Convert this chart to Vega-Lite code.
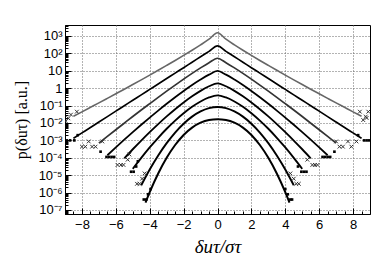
{
 "$schema": "https://vega.github.io/schema/vega-lite/v6.json",
 "width": 305, "height": 189,
 "autosize": {"type": "none"},
 "padding": {"left": 65, "top": 25, "right": 12, "bottom": 55},
 "background": "white",
 "config": {"view": {"stroke": "black", "strokeWidth": 1}},
 "datasets": {
  "curves": [
   {"c":1,"x":-8.5,"p":0.0244},{"c":1,"x":-8,"p":0.0438},{"c":1,"x":-7.5,"p":0.0791},{"c":1,"x":-7,"p":0.143},{"c":1,"x":-6.5,"p":0.261},{"c":1,"x":-6,"p":0.478},{"c":1,"x":-5.5,"p":0.877},{"c":1,"x":-5,"p":1.62},{"c":1,"x":-4.5,"p":3.02},{"c":1,"x":-4,"p":5.66},{"c":1,"x":-3.5,"p":10.7},{"c":1,"x":-3,"p":20.4},{"c":1,"x":-2.5,"p":39.2},{"c":1,"x":-2,"p":76.6},{"c":1,"x":-1.5,"p":152},{"c":1,"x":-1,"p":309},{"c":1,"x":-0.5,"p":653},{"c":1,"x":0,"p":1549},{"c":1,"x":0.5,"p":653},{"c":1,"x":1,"p":309},{"c":1,"x":1.5,"p":152},{"c":1,"x":2,"p":76.6},{"c":1,"x":2.5,"p":39.2},{"c":1,"x":3,"p":20.4},{"c":1,"x":3.5,"p":10.7},{"c":1,"x":4,"p":5.66},{"c":1,"x":4.5,"p":3.02},{"c":1,"x":5,"p":1.62},{"c":1,"x":5.5,"p":0.877},{"c":1,"x":6,"p":0.478},{"c":1,"x":6.5,"p":0.261},{"c":1,"x":7,"p":0.143},{"c":1,"x":7.5,"p":0.0791},{"c":1,"x":8,"p":0.0438},{"c":1,"x":8.5,"p":0.0244},
   {"c":2,"x":-8.5,"p":0.00131},{"c":2,"x":-8,"p":0.00269},{"c":2,"x":-7.5,"p":0.00553},{"c":2,"x":-7,"p":0.01135},{"c":2,"x":-6.5,"p":0.0233},{"c":2,"x":-6,"p":0.0479},{"c":2,"x":-5.5,"p":0.0983},{"c":2,"x":-5,"p":0.202},{"c":2,"x":-4.5,"p":0.414},{"c":2,"x":-4,"p":0.851},{"c":2,"x":-3.5,"p":1.75},{"c":2,"x":-3,"p":3.59},{"c":2,"x":-2.5,"p":7.37},{"c":2,"x":-2,"p":15.1},{"c":2,"x":-1.5,"p":31.1},{"c":2,"x":-1,"p":63.8},{"c":2,"x":-0.5,"p":131},{"c":2,"x":0,"p":269},{"c":2,"x":0.5,"p":131},{"c":2,"x":1,"p":63.8},{"c":2,"x":1.5,"p":31.1},{"c":2,"x":2,"p":15.1},{"c":2,"x":2.5,"p":7.37},{"c":2,"x":3,"p":3.59},{"c":2,"x":3.5,"p":1.75},{"c":2,"x":4,"p":0.851},{"c":2,"x":4.5,"p":0.414},{"c":2,"x":5,"p":0.202},{"c":2,"x":5.5,"p":0.0983},{"c":2,"x":6,"p":0.0479},{"c":2,"x":6.5,"p":0.0233},{"c":2,"x":7,"p":0.01135},{"c":2,"x":7.5,"p":0.00553},{"c":2,"x":8,"p":0.00269},{"c":2,"x":8.5,"p":0.00131},
   {"c":3,"x":-7,"p":0.000692},{"c":3,"x":-6.5,"p":0.00169},{"c":3,"x":-6,"p":0.0041},{"c":3,"x":-5.5,"p":0.00986},{"c":3,"x":-5,"p":0.0236},{"c":3,"x":-4.5,"p":0.0556},{"c":3,"x":-4,"p":0.129},{"c":3,"x":-3.5,"p":0.298},{"c":3,"x":-3,"p":0.678},{"c":3,"x":-2.5,"p":1.51},{"c":3,"x":-2,"p":3.31},{"c":3,"x":-1.5,"p":7.1},{"c":3,"x":-1,"p":14.7},{"c":3,"x":-0.5,"p":29.2},{"c":3,"x":0,"p":52.5},{"c":3,"x":0.5,"p":29.2},{"c":3,"x":1,"p":14.7},{"c":3,"x":1.5,"p":7.1},{"c":3,"x":2,"p":3.31},{"c":3,"x":2.5,"p":1.51},{"c":3,"x":3,"p":0.678},{"c":3,"x":3.5,"p":0.298},{"c":3,"x":4,"p":0.129},{"c":3,"x":4.5,"p":0.0556},{"c":3,"x":5,"p":0.0236},{"c":3,"x":5.5,"p":0.00986},{"c":3,"x":6,"p":0.0041},{"c":3,"x":6.5,"p":0.00169},{"c":3,"x":7,"p":0.000692},
   {"c":4,"x":-6.5,"p":0.00014},{"c":4,"x":-6,"p":0.000395},{"c":4,"x":-5.5,"p":0.001096},{"c":4,"x":-5,"p":0.00298},{"c":4,"x":-4.5,"p":0.00791},{"c":4,"x":-4,"p":0.0205},{"c":4,"x":-3.5,"p":0.0518},{"c":4,"x":-3,"p":0.127},{"c":4,"x":-2.5,"p":0.302},{"c":4,"x":-2,"p":0.692},{"c":4,"x":-1.5,"p":1.517},{"c":4,"x":-1,"p":3.13},{"c":4,"x":-0.5,"p":6.0},{"c":4,"x":0,"p":9.77},{"c":4,"x":0.5,"p":6.0},{"c":4,"x":1,"p":3.13},{"c":4,"x":1.5,"p":1.517},{"c":4,"x":2,"p":0.692},{"c":4,"x":2.5,"p":0.302},{"c":4,"x":3,"p":0.127},{"c":4,"x":3.5,"p":0.0518},{"c":4,"x":4,"p":0.0205},{"c":4,"x":4.5,"p":0.00791},{"c":4,"x":5,"p":0.00298},{"c":4,"x":5.5,"p":0.001096},{"c":4,"x":6,"p":0.000395},{"c":4,"x":6.5,"p":0.00014},
   {"c":5,"x":-5.5,"p":0.0000935},{"c":5,"x":-5,"p":0.00031},{"c":5,"x":-4.5,"p":0.000984},{"c":5,"x":-4,"p":0.00299},{"c":5,"x":-3.5,"p":0.00867},{"c":5,"x":-3,"p":0.0239},{"c":5,"x":-2.5,"p":0.0621},{"c":5,"x":-2,"p":0.151},{"c":5,"x":-1.5,"p":0.342},{"c":5,"x":-1,"p":0.705},{"c":5,"x":-0.5,"p":1.291},{"c":5,"x":0,"p":1.905},{"c":5,"x":0.5,"p":1.291},{"c":5,"x":1,"p":0.705},{"c":5,"x":1.5,"p":0.342},{"c":5,"x":2,"p":0.151},{"c":5,"x":2.5,"p":0.0621},{"c":5,"x":3,"p":0.0239},{"c":5,"x":3.5,"p":0.00867},{"c":5,"x":4,"p":0.00299},{"c":5,"x":4.5,"p":0.000984},{"c":5,"x":5,"p":0.00031},{"c":5,"x":5.5,"p":0.0000935},
   {"c":6,"x":-5,"p":0.0000233},{"c":6,"x":-4.5,"p":0.0000995},{"c":6,"x":-4,"p":0.000394},{"c":6,"x":-3.5,"p":0.001416},{"c":6,"x":-3,"p":0.00465},{"c":6,"x":-2.5,"p":0.01374},{"c":6,"x":-2,"p":0.0363},{"c":6,"x":-1.5,"p":0.0849},{"c":6,"x":-1,"p":0.172},{"c":6,"x":-0.5,"p":0.294},{"c":6,"x":0,"p":0.389},{"c":6,"x":0.5,"p":0.294},{"c":6,"x":1,"p":0.172},{"c":6,"x":1.5,"p":0.0849},{"c":6,"x":2,"p":0.0363},{"c":6,"x":2.5,"p":0.01374},{"c":6,"x":3,"p":0.00465},{"c":6,"x":3.5,"p":0.001416},{"c":6,"x":4,"p":0.000394},{"c":6,"x":4.5,"p":0.0000995},{"c":6,"x":5,"p":0.0000233},
   {"c":7,"x":-4.5,"p":0.00000264},{"c":7,"x":-4,"p":0.0000211},{"c":7,"x":-3.5,"p":0.0001355},{"c":7,"x":-3,"p":0.000695},{"c":7,"x":-2.5,"p":0.00283},{"c":7,"x":-2,"p":0.00912},{"c":7,"x":-1.5,"p":0.0232},{"c":7,"x":-1,"p":0.0461},{"c":7,"x":-0.5,"p":0.0711},{"c":7,"x":0,"p":0.0832},{"c":7,"x":0.5,"p":0.0711},{"c":7,"x":1,"p":0.0461},{"c":7,"x":1.5,"p":0.0232},{"c":7,"x":2,"p":0.00912},{"c":7,"x":2.5,"p":0.00283},{"c":7,"x":3,"p":0.000695},{"c":7,"x":3.5,"p":0.0001355},{"c":7,"x":4,"p":0.0000211},{"c":7,"x":4.5,"p":0.00000264},
   {"c":8,"x":-4.25,"p":0.000000262},{"c":8,"x":-4,"p":0.00000105},{"c":8,"x":-3.5,"p":0.00001245},{"c":8,"x":-3,"p":0.0000995},{"c":8,"x":-2.5,"p":0.000542},{"c":8,"x":-2,"p":0.00205},{"c":8,"x":-1.5,"p":0.00543},{"c":8,"x":-1,"p":0.0104},{"c":8,"x":-0.5,"p":0.01476},{"c":8,"x":0,"p":0.0162},{"c":8,"x":0.5,"p":0.01476},{"c":8,"x":1,"p":0.0104},{"c":8,"x":1.5,"p":0.00543},{"c":8,"x":2,"p":0.00205},{"c":8,"x":2.5,"p":0.000542},{"c":8,"x":3,"p":0.0000995},{"c":8,"x":3.5,"p":0.00001245},{"c":8,"x":4,"p":0.00000105},{"c":8,"x":4.25,"p":0.000000262}
  ],
  "tails": [
   {"c":1,"x":-8.95,"p":0.0126},{"c":1,"x":-8.8,"p":0.0186},{"c":1,"x":-8.65,"p":0.0302},{"c":1,"x":-8.3,"p":0.0447},{"c":1,"x":8.6,"p":0.0148},{"c":1,"x":8.75,"p":0.0234},{"c":1,"x":8.9,"p":0.0447},{"c":1,"x":8.8,"p":0.0195},{"c":1,"x":8.4,"p":0.0447},
   {"c":2,"x":-8.9,"p":0.001},{"c":2,"x":-8.7,"p":0.001},{"c":2,"x":-8.45,"p":0.001},{"c":2,"x":-8.25,"p":0.002},{"c":2,"x":8.3,"p":0.002},{"c":2,"x":8.65,"p":0.001},{"c":2,"x":8.8,"p":0.001},{"c":2,"x":8.95,"p":0.001},
   {"c":3,"x":-8.0,"p":0.000437},{"c":3,"x":-7.8,"p":0.000437},{"c":3,"x":-7.4,"p":0.000437},{"c":3,"x":-7.2,"p":0.000437},{"c":3,"x":-7.6,"p":0.00087},{"c":3,"x":-6.8,"p":0.00087},{"c":3,"x":7.0,"p":0.00087},{"c":3,"x":7.2,"p":0.000437},{"c":3,"x":7.4,"p":0.000437},{"c":3,"x":7.7,"p":0.00087},{"c":3,"x":7.9,"p":0.000437},{"c":3,"x":8.2,"p":0.00087},
   {"c":4,"x":-6.55,"p":0.000112},{"c":4,"x":-6.4,"p":0.000112},{"c":4,"x":-6.25,"p":0.000112},{"c":4,"x":-6.1,"p":0.000112},{"c":4,"x":-6.9,"p":0.000224},{"c":4,"x":6.2,"p":0.000112},{"c":4,"x":6.35,"p":0.000112},{"c":4,"x":6.5,"p":0.000112},{"c":4,"x":6.65,"p":0.000112},{"c":4,"x":6.9,"p":0.000224},
   {"c":5,"x":-5.9,"p":0.000039},{"c":5,"x":-5.7,"p":0.000039},{"c":5,"x":-5.55,"p":0.000039},{"c":5,"x":-5.3,"p":0.000078},{"c":5,"x":-5.2,"p":0.000155},{"c":5,"x":5.3,"p":0.000078},{"c":5,"x":5.6,"p":0.000039},{"c":5,"x":5.75,"p":0.000039},{"c":5,"x":5.9,"p":0.000039},
   {"c":6,"x":-5.1,"p":0.0000158},{"c":6,"x":-4.95,"p":0.0000158},{"c":6,"x":-4.8,"p":0.0000316},{"c":6,"x":-4.7,"p":0.000063},{"c":6,"x":4.75,"p":0.0000316},{"c":6,"x":4.95,"p":0.0000158},{"c":6,"x":5.1,"p":0.0000158},{"c":6,"x":5.25,"p":0.0000158},
   {"c":7,"x":-4.75,"p":0.0000032},{"c":7,"x":-4.6,"p":0.0000032},{"c":7,"x":-4.45,"p":0.0000063},{"c":7,"x":-4.3,"p":0.0000126},{"c":7,"x":4.3,"p":0.0000126},{"c":7,"x":4.5,"p":0.0000063},{"c":7,"x":4.65,"p":0.0000032},{"c":7,"x":4.8,"p":0.0000032},
   {"c":8,"x":-4.35,"p":0.0000004},{"c":8,"x":-4.2,"p":0.0000004},{"c":8,"x":-4.1,"p":0.0000008},{"c":8,"x":-3.95,"p":0.0000016},{"c":8,"x":4.0,"p":0.0000016},{"c":8,"x":4.15,"p":0.0000008},{"c":8,"x":4.3,"p":0.0000004},{"c":8,"x":4.4,"p":0.0000004}
  ]
 },
 "layer": [
  {
   "data": {"name": "curves"},
   "mark": {"type": "line", "clip": true, "interpolate": "monotone"},
   "encoding": {
    "x": {"field": "x", "type": "quantitative", "scale": {"domain": [-9, 9], "nice": false, "zero": false},
     "axis": {"orient": "bottom", "values": [-8,-6,-4,-2,0,2,4,6,8], "format": "d", "tickSize": -6, "tickColor": "black", "labelPadding": 10, "labelFontSize": 13, "labelFont": "Liberation Sans", "labelColor": "black", "grid": true, "gridDash": [1,2], "gridColor": "#666", "domainColor": "black", "title": "δuτ/στ", "titleFont": "Liberation Serif", "titleFontSize": 19, "titleFontWeight": "normal", "titleFontStyle": "italic", "titleColor": "black", "titlePadding": 6}},
    "y": {"field": "p", "type": "quantitative", "scale": {"type": "log", "domain": [5.89e-8, 4285], "nice": false},
     "axis": {"orient": "left", "values": [1e-7,1e-6,1e-5,1e-4,1e-3,1e-2,1e-1,1,10,100,1000], "labelExpr": "['10⁻⁷','10⁻⁶','10⁻⁵','10⁻⁴','10⁻³','10⁻²','10⁻¹','1','10','10²','10³'][round(log(datum.value)/LN10)+7]", "tickSize": -6, "tickColor": "black", "labelPadding": 9, "labelFontSize": 13, "labelFont": "Liberation Sans", "labelColor": "black", "grid": true, "gridDash": [1,2], "gridColor": "#666", "domainColor": "black", "title": "p(δuτ) [a.u.]", "titleFont": "Liberation Serif", "titleFontSize": 16, "titleFontWeight": "normal", "titleColor": "black", "titlePadding": 8}},
    "color": {"field": "c", "type": "nominal", "scale": {"domain": [1,2,3,4,5,6,7,8], "range": ["#666","#000","#333","#000","#000","#000","#000","#000"]}, "legend": null},
    "strokeWidth": {"field": "c", "type": "ordinal", "scale": {"domain": [1,2,3,4,5,6,7,8], "range": [1.6,2,2,2.3,2.5,2.7,2.9,3]}, "legend": null}
   }
  },
  {
   "data": {"name": "tails"},
   "transform": [{"filter": "datum.c % 2 == 1"}],
   "mark": {"type": "point", "shape": "M-1,-1L1,1M-1,1L1,-1", "filled": false, "strokeWidth": 1, "size": 14, "color": "#333", "opacity": 1, "clip": true},
   "encoding": {
    "x": {"field": "x", "type": "quantitative", "axis": null},
    "y": {"field": "p", "type": "quantitative", "axis": null}
   }
  },
  {
   "data": {"name": "tails"},
   "transform": [{"filter": "datum.c % 2 == 0"}],
   "mark": {"type": "square", "size": 7, "color": "#000", "opacity": 1, "clip": true},
   "encoding": {
    "x": {"field": "x", "type": "quantitative", "axis": null},
    "y": {"field": "p", "type": "quantitative", "axis": null}
   }
  },
  {
   "data": {"name": "curves"},
   "mark": {"type": "point", "opacity": 0},
   "encoding": {
    "x": {"field": "x", "type": "quantitative",
     "axis": {"orient": "bottom", "values": [-8.5,-7.5,-7,-6.5,-5.5,-5,-4.5,-3.5,-3,-2.5,-1.5,-1,-0.5,0.5,1,1.5,2.5,3,3.5,4.5,5,5.5,6.5,7,7.5,8.5], "tickSize": -3, "tickColor": "black", "labels": false, "grid": false, "domain": false, "title": null}},
    "y": {"field": "p", "type": "quantitative",
     "axis": {"orient": "left", "values": [6e-8,7e-8,8e-8,9e-8,2e-7,3e-7,4e-7,5e-7,6e-7,7e-7,8e-7,9e-7,2e-6,3e-6,4e-6,5e-6,6e-6,7e-6,8e-6,9e-6,2e-5,3e-5,4e-5,5e-5,6e-5,7e-5,8e-5,9e-5,2e-4,3e-4,4e-4,5e-4,6e-4,7e-4,8e-4,9e-4,0.002,0.003,0.004,0.005,0.006,0.007,0.008,0.009,0.02,0.03,0.04,0.05,0.06,0.07,0.08,0.09,0.2,0.3,0.4,0.5,0.6,0.7,0.8,0.9,2,3,4,5,6,7,8,9,20,30,40,50,60,70,80,90,200,300,400,500,600,700,800,900,2000,3000,4000], "tickSize": -3, "tickColor": "black", "labels": false, "grid": false, "domain": false, "title": null}}
   }
  }
 ],
 "resolve": {"axis": {"x": "independent", "y": "independent"}}
}
